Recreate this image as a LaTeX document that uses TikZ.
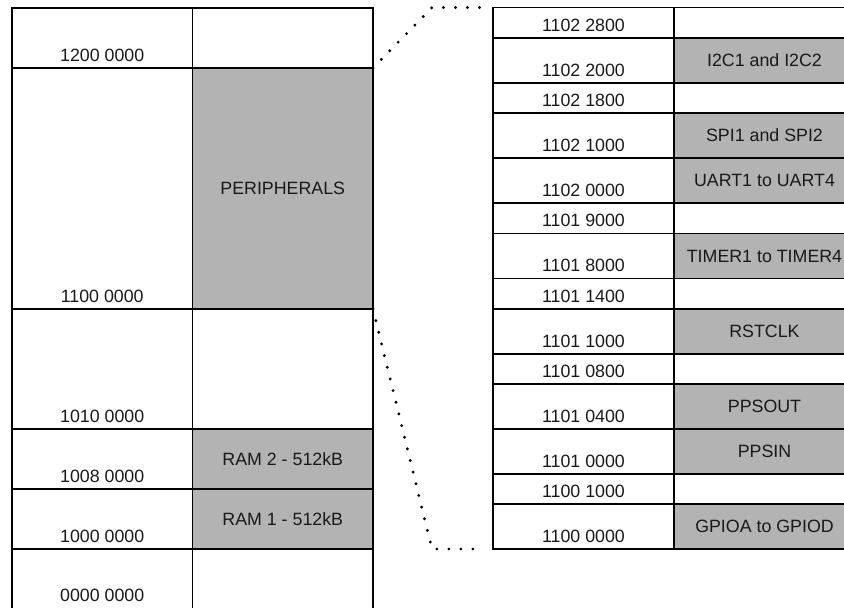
\documentclass[tikz,border=0pt]{standalone}
\usepackage{fontspec}
\setmainfont{Liberation Sans}
\usetikzlibrary{calc}
\definecolor{cellgray}{RGB}{179,179,179}
\tikzset{
  cell/.style={draw=black, line width=1.4pt, anchor=north west, inner sep=0pt, outer sep=0pt,
    font=\fontsize{17.8}{20}\selectfont, text=black!90},
  shaded/.style={cell, fill=cellgray},
  txt/.style={font=\fontsize{17.8}{20}\selectfont, inner sep=0pt, text=black!90},
  conn/.style={line width=3.2pt, line cap=round, dash pattern=on 0pt off 12pt}
}
\begin{document}
\begin{tikzpicture}[x=1pt,y=-1pt]
\useasboundingbox (0,0) rectangle (844,608);
\clip (0,0) rectangle (844,608);
% left table
\foreach \t/\h/\ad/\nm/\st [count=\i] in {
  8/60/1200 0000//cell,
  68/241/1100 0000/PERIPHERALS/shaded,
  309/120/1010 0000//cell,
  429/60/1008 0000/RAM 2 - 512kB/shaded,
  489/60/1000 0000/RAM 1 - 512kB/shaded,
  549/59/0000 0000//cell}{
  \node[cell, minimum width=180.5pt, minimum height=\h pt] (la\i) at (12,\t) {};
  \node[\st, minimum width=180.5pt, minimum height=\h pt] (lb\i) at (192.5,\t) {\nm};
  \node[txt, anchor=base] (lt\i) at ($(la\i.south)+(0,-7)$) {\ad};
}
% the bottom edge of the left table lies beyond the picture
\fill[white] (0,606.5) rectangle (844,612);
\draw[line width=1.4pt] (la6.north west) -- (12,610) (la6.north east) -- (192.5,610) (lb6.north east) -- (373,610);
% right table
\foreach \t/\h/\ad/\nm/\st [count=\i] in {
  7.5/30.5/1102 2800//cell,
  38/45/1102 2000/I2C1 and I2C2/shaded,
  83/30/1102 1800//cell,
  113/45/1102 1000/SPI1 and SPI2/shaded,
  158/45/1102 0000/UART1 to UART4/shaded,
  203/30.5/1101 9000//cell,
  233.5/45/1101 8000/TIMER1 to TIMER4/shaded,
  278.5/30.5/1101 1400//cell,
  309/45/1101 1000/RSTCLK/shaded,
  354/30/1101 0800//cell,
  384/45/1101 0400/PPSOUT/shaded,
  429/45/1101 0000/PPSIN/shaded,
  474/30/1100 1000//cell,
  504/45/1100 0000/GPIOA to GPIOD/shaded}{
  \node[cell, minimum width=181pt, minimum height=\h pt] (ra\i) at (493,\t) {};
  \node[\st, minimum width=181pt, minimum height=\h pt] (rb\i) at (674,\t) {\nm};
  \node[txt, anchor=base] (rt\i) at ($(ra\i.south)+(0,-7)$) {\ad};
}
% zoom connectors
\coordinate (k1) at (432,7.5);
\coordinate (k2) at (432,549);
\coordinate (e1) at (484,7.5);
\coordinate (e2) at (484,549);
\draw[conn] (lb2.north east) -- (k1) -- (e1);
\draw[conn] (lb2.south east) -- (k2) -- (e2);
\end{tikzpicture}
\end{document}
